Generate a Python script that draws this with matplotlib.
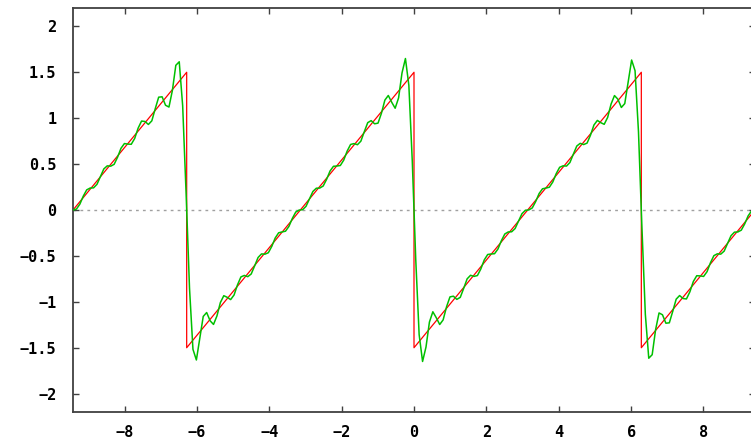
import numpy as np
import matplotlib
matplotlib.use("Agg")
import matplotlib.pyplot as plt

# sawtooth corners (x, y), one period every 2*pi
saw_x = [-9.425, -6.283, -6.283, 0.0, 0.0, 6.283, 6.283, 9.425]
saw_y = [0.0, 1.5, -1.5, 1.5, -1.5, 1.5, -1.5, 0.0]

# sine coefficients b_k of the truncated Fourier series, k = 1..12
sine_coeffs = [-0.955, -0.477, -0.318, -0.239, -0.191, -0.159,
               -0.136, -0.119, -0.106, -0.095, -0.087, -0.080]

x_ticks = [-8, -6, -4, -2, 0, 2, 4, 6, 8]
y_ticks = [-2, -1.5, -1, -0.5, 0, 0.5, 1, 1.5, 2]
y_labels = ["\u22122", "\u22121.5", "\u22121", "\u22120.5", "0", "0.5", "1", "1.5", "2"]
x_labels = ["\u22128", "\u22126", "\u22124", "\u22122", "0", "2", "4", "6", "8"]

x_min, x_max = -9.425, 9.425


def fourier_sum(x, coeffs):
    y = np.zeros_like(x)
    for k, b in enumerate(coeffs, start=1):
        y += b * np.sin(k * x)
    return y


fig = plt.figure(figsize=(7.51, 4.44), dpi=100)
ax = fig.add_axes([73 / 751, 1 - 412 / 444, 682 / 751, 404 / 444])

xs = np.linspace(x_min, x_max, 200)

ax.axhline(0, color="#a0a0a0", lw=1.0, ls=(0, (2, 3)), zorder=1)
ax.plot(saw_x, saw_y, color="#ff0000", lw=0.9, zorder=2)
ax.plot(xs, fourier_sum(xs, sine_coeffs), color="#00c000", lw=1.1, zorder=3)

ax.set_xlim(x_min, x_max)
ax.set_ylim(-2.2, 2.2)
ax.set_xticks(x_ticks)
ax.set_xticklabels(x_labels)
ax.set_yticks(y_ticks)
ax.set_yticklabels(y_labels)

for sp in ax.spines.values():
    sp.set_color("#404040")
    sp.set_linewidth(1.3)

ax.tick_params(direction="in", length=4, width=1.0, color="#404040",
               top=True, right=True, labelsize=11)
ax.tick_params(axis="y", pad=12)
ax.tick_params(axis="x", pad=9)
for lab in ax.get_xticklabels() + ax.get_yticklabels():
    lab.set_family("DejaVu Sans Mono")
    lab.set_fontweight("bold")

fig.savefig("out.png", dpi=100)
